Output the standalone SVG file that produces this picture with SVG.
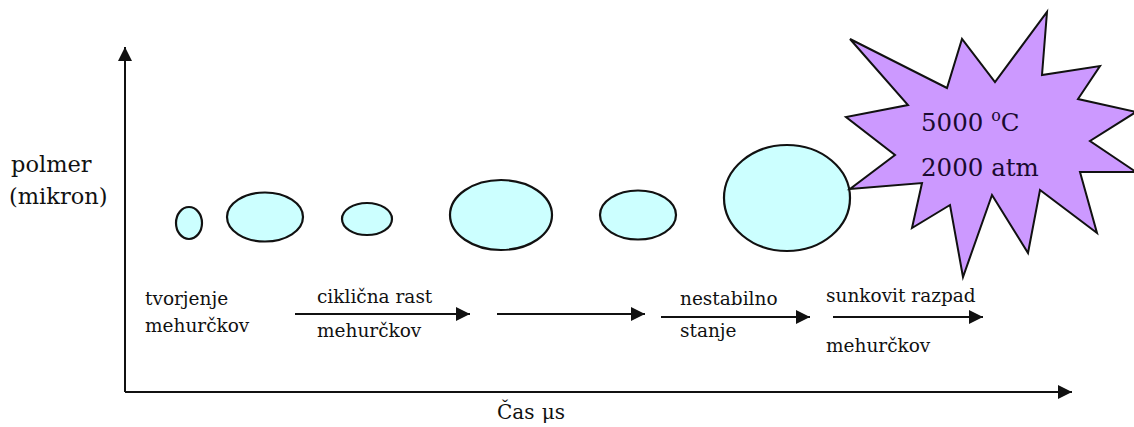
<svg xmlns="http://www.w3.org/2000/svg" width="1134" height="427" viewBox="0 0 1134 427">
<style>
  text { font-family: "DejaVu Serif", serif; fill: #111; }
  .lbl { font-size: 18.5px; }
  .bub { fill: #ccffff; stroke: #111; stroke-width: 2.2; }
  .con { stroke: #111; stroke-width: 2; fill: none; }
  .star { fill: #cc99ff; stroke: #111; stroke-width: 2; stroke-linejoin: miter; }
  .st { font-size: 24.5px; }
</style>
<defs>
  <marker id="ahL" viewBox="0 0 10 10" refX="10" refY="5" markerWidth="15" markerHeight="14" markerUnits="userSpaceOnUse" orient="auto">
    <path d="M0,0 L10,5 L0,10 Z" fill="#111"/>
  </marker>
</defs>
<rect width="1134" height="427" fill="#fff"/>

<g id="axes">
  <line class="con" x1="125" y1="392" x2="125" y2="47" marker-end="url(#ahL)"/>
  <line class="con" x1="125" y1="392" x2="1072" y2="392" marker-end="url(#ahL)"/>
  <text x="11" y="172" font-size="22.5">polmer</text>
  <text x="9" y="204" font-size="22.5">(mikron)</text>
  <text x="497" y="419" font-size="20">Čas <tspan dx="1">μs</tspan></text>
</g>

<g id="bubble1"><ellipse class="bub" cx="189" cy="223" rx="13" ry="16"/></g>
<g id="bubble2"><ellipse class="bub" cx="265" cy="217" rx="38" ry="24.5"/></g>
<g id="bubble3"><ellipse class="bub" cx="367" cy="219" rx="25" ry="16"/></g>
<g id="bubble4"><ellipse class="bub" cx="501" cy="215" rx="51" ry="35"/></g>
<g id="bubble5"><ellipse class="bub" cx="638" cy="215" rx="38" ry="24.5"/></g>
<g id="bubble6"><ellipse class="bub" cx="787" cy="198" rx="63" ry="53"/></g>

<g id="explosion">
  <polygon class="star" points="850,39 947,88 962,39 995,82 1047,12 1042,75 1100,66 1078,99 1136,112 1090,141 1136,172 1080,172 1097,233 1040,190 1028,253 992,195 963,277 950,205 912,228 922,183 850,189 895,155 846,117 908,105"/>
  <text class="st" x="921" y="131" style="fill:#1a0a30">5000 <tspan font-size="16" dy="-10">o</tspan><tspan dy="10">C</tspan></text>
  <text class="st" x="921" y="176" style="fill:#1a0a30">2000 atm</text>
</g>

<g id="connectors">
  <line class="con" x1="295" y1="314" x2="470" y2="314" marker-end="url(#ahL)"/>
  <line class="con" x1="497" y1="314" x2="645" y2="314" marker-end="url(#ahL)"/>
  <line class="con" x1="661" y1="317" x2="810" y2="317" marker-end="url(#ahL)"/>
  <line class="con" x1="833" y1="317" x2="983" y2="317" marker-end="url(#ahL)"/>
</g>

<g id="labels">
  <text class="lbl" x="145" y="305">tvorjenje</text>
  <text class="lbl" x="145" y="332">mehurčkov</text>
  <text class="lbl" x="317" y="303">ciklična rast</text>
  <text class="lbl" x="317" y="337">mehurčkov</text>
  <text class="lbl" x="680" y="305">nestabilno</text>
  <text class="lbl" x="680" y="337">stanje</text>
  <text class="lbl" x="826" y="302">sunkovit razpad</text>
  <text class="lbl" x="826" y="352">mehurčkov</text>
</g>
</svg>
